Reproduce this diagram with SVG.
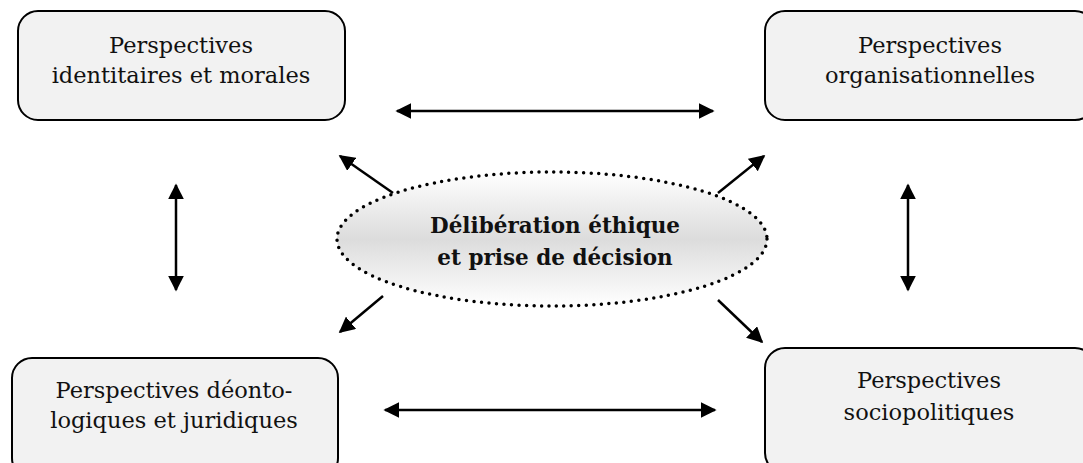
<svg xmlns="http://www.w3.org/2000/svg" width="1083" height="463" viewBox="0 0 1083 463">
  <defs>
    <linearGradient id="ovalFill" x1="0" y1="0" x2="0" y2="1">
      <stop offset="0" stop-color="#ffffff"/>
      <stop offset="0.5" stop-color="#dcdcdc"/>
      <stop offset="1" stop-color="#ffffff"/>
    </linearGradient>
    <marker id="head" viewBox="0 0 10 10" refX="9" refY="5" markerWidth="6.4" markerHeight="6.4" markerUnits="strokeWidth" orient="auto-start-reverse">
      <path d="M0,0 L10,5 L0,10 z" fill="#000"/>
    </marker>
  </defs>
  <style>
    .box { fill: #f2f2f2; stroke: #000; stroke-width: 2; }
    .label { font-family: "DejaVu Serif", "Liberation Serif", serif; font-size: 22.5px; fill: #111; text-anchor: middle; }
    .core { font-family: "DejaVu Serif", "Liberation Serif", serif; font-size: 21.5px; font-weight: bold; fill: #111; text-anchor: middle; }
    .link { stroke: #000; stroke-width: 2.5; fill: none; marker-end: url(#head); }
    .both { marker-start: url(#head); }
  </style>
  <rect width="1083" height="463" fill="#fff"/>

  <g id="connectors">
    <line class="link both" x1="397" y1="111" x2="713" y2="111"/>
    <line class="link both" x1="385" y1="410" x2="715" y2="410"/>
    <line class="link both" x1="176" y1="185" x2="176" y2="290"/>
    <line class="link both" x1="908" y1="185" x2="908" y2="290"/>
    <line class="link" x1="393" y1="193" x2="340" y2="156"/>
    <line class="link" x1="718" y1="193" x2="764" y2="156"/>
    <line class="link" x1="383" y1="296" x2="340" y2="332"/>
    <line class="link" x1="718" y1="300" x2="762" y2="342"/>
  </g>

  <g id="node-identitaires">
    <rect class="box" x="18" y="11" width="327" height="109" rx="20"/>
    <text class="label" x="181" y="53">Perspectives</text>
    <text class="label" x="181" y="83">identitaires et morales</text>
  </g>

  <g id="node-organisationnelles">
    <rect class="box" x="765" y="11" width="330" height="109" rx="20"/>
    <text class="label" x="930" y="53">Perspectives</text>
    <text class="label" x="930" y="83">organisationnelles</text>
  </g>

  <g id="node-deontologiques">
    <rect class="box" x="12" y="358" width="326" height="120" rx="20"/>
    <text class="label" x="174" y="398">Perspectives déonto-</text>
    <text class="label" x="174" y="428">logiques et juridiques</text>
  </g>

  <g id="node-sociopolitiques">
    <rect class="box" x="765" y="348" width="330" height="125" rx="20"/>
    <text class="label" x="929" y="388">Perspectives</text>
    <text class="label" x="929" y="420">sociopolitiques</text>
  </g>

  <g id="node-deliberation">
    <ellipse cx="552" cy="239" rx="215" ry="67" fill="url(#ovalFill)" stroke="#000" stroke-width="3.5" stroke-linecap="round" stroke-dasharray="0 7.5"/>
    <text class="core" x="555" y="233">Délibération éthique</text>
    <text class="core" x="555" y="265">et prise de décision</text>
  </g>
</svg>
